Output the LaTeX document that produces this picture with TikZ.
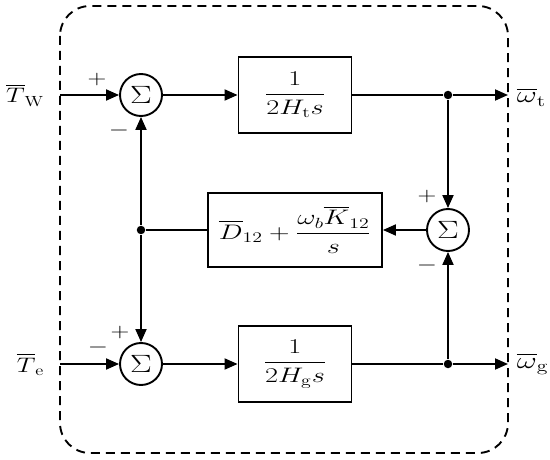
\RequirePackage{fix-cm}
\documentclass[tikz,border=0pt]{standalone}
\usepackage{amsmath}
\usepackage{graphicx}
\usetikzlibrary{arrows.meta}
\newcommand{\sx}[1]{\scalebox{1.35}[1]{#1}}
\newcommand{\sxs}[1]{\scalebox{1.3}[1]{#1}}
\begin{document}
\begin{tikzpicture}[x=1pt,y=-1pt,
  font=\fontsize{21}{25}\selectfont,
  line width=1.9pt,
  >={Triangle[length=13pt,width=11pt]},
  sumnode/.style={circle,draw,minimum size=42pt,inner sep=0pt,font=\fontsize{25}{29}\selectfont},
  blk/.style={draw,rectangle,inner sep=0pt},
  dot/.style={circle,fill,inner sep=0pt,minimum size=8.5pt},
  lbl/.style={inner sep=0pt},
  olbl/.style={inner sep=0pt,font=\fontsize{23}{27}\selectfont},
  sgn/.style={inner sep=0pt,font=\fontsize{20}{24}\selectfont},
]
\useasboundingbox (0,0) rectangle (550,460);
\draw[dash pattern=on 9pt off 6pt, rounded corners=30pt] (60,6) rectangle (508,453);

\node[sumnode] (s1) at (141,95) {\scalebox{1.3}[1]{$\Sigma$}};
\node[sumnode] (s2) at (141,364) {\scalebox{1.3}[1]{$\Sigma$}};
\node[sumnode] (s3) at (448,230) {\scalebox{1.3}[1]{$\Sigma$}};

\node[blk,minimum width=113pt,minimum height=76pt] (b1) at (295,95) {\sx{$\dfrac{1}{2H_\mathrm{t}s}$}};
\node[blk,minimum width=174pt,minimum height=74pt] (b2) at (295,230) {\sx{$\overline{D}_{12}+\dfrac{\omega_b\overline{K}_{12}}{s}$}};
\node[blk,minimum width=113pt,minimum height=76pt] (b3) at (295,364) {\sx{$\dfrac{1}{2H_\mathrm{g}s}$}};

\node[dot] (j1) at (448,95) {};
\node[dot] (j2) at (448,364) {};
\node[dot] (j3) at (141,230) {};

\coordinate (in1) at (60,95);
\coordinate (in2) at (60,364);
\coordinate (out1) at (508,95);
\coordinate (out2) at (508,364);

\node[lbl,anchor=base east] (lTW) at (45,103) {\scalebox{1.25}[1]{$\overline{T}_\mathrm{W}$}};
\node[lbl,anchor=base east] (lTe) at (45,372) {\scalebox{1.25}[1]{$\overline{T}_\mathrm{e}$}};
\node[olbl,anchor=base west] (lwt) at (516,103) {\sx{$\overline{\omega}_\mathrm{t}$}};
\node[olbl,anchor=base west] (lwg) at (516,368) {\sx{$\overline{\omega}_\mathrm{g}$}};

\node[sgn] (p1) at (97,80) {\sxs{$+$}};
\node[sgn] (m1) at (119,131) {\sxs{$-$}};
\node[sgn] (m2) at (98,347) {\sxs{$-$}};
\node[sgn] (p2) at (120,332) {\sxs{$+$}};
\node[sgn] (p3) at (427,197) {\sxs{$+$}};
\node[sgn] (m3) at (427,265) {\sxs{$-$}};

\draw[->] (in1) -- (s1);
\draw[->] (s1) -- (b1);
\draw (b1) -- (j1);
\draw[->] (j1) -- (out1);
\draw[->] (j1) -- (s3);
\draw[->] (j2) -- (s3);
\draw[->] (s3) -- (b2);
\draw (b2) -- (j3);
\draw[->] (j3) -- (s1);
\draw[->] (j3) -- (s2);
\draw[->] (in2) -- (s2);
\draw[->] (s2) -- (b3);
\draw (b3) -- (j2);
\draw[->] (j2) -- (out2);
\end{tikzpicture}
\end{document}
